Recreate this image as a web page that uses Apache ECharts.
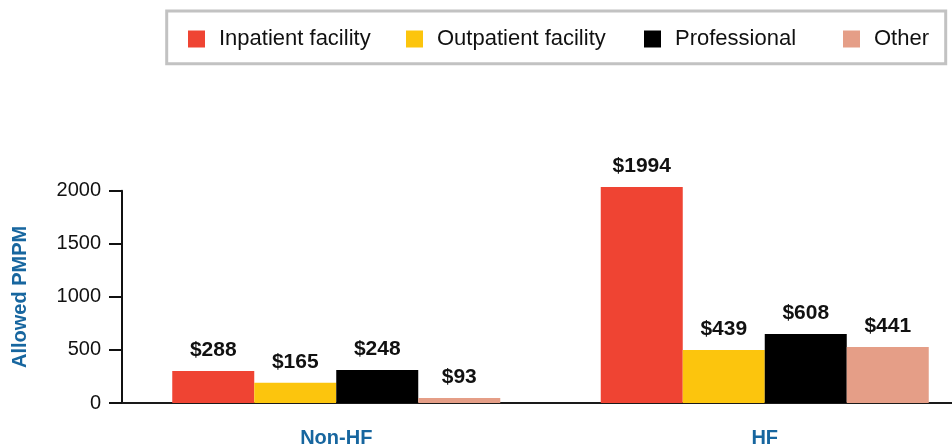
<!DOCTYPE html>
<html lang="en">
<head>
    <meta charset="UTF-8">
    <title>Allowed PMPM</title>
    <script src="https://cdn.jsdelivr.net/npm/echarts@6/dist/echarts.min.js"></script>
    <style>
        html, body { margin: 0; padding: 0; background: #fff; }
    </style>
</head>
<body>
<div id="main" style="width: 952px;height:448px;"></div>
<script>
    // categories and series (bar heights as drawn, labels as printed)
    var categories = ['Non-HF', 'HF'];
    var seriesNames = ['Inpatient facility', 'Outpatient facility', 'Professional', 'Other'];
    var inpatient = [301, 2035];
    var outpatient = [191, 499];
    var professional = [311, 650];
    var other = [47, 528];
    var inpatientLabels = ['$288', '$1994'];
    var outpatientLabels = ['$165', '$439'];
    var professionalLabels = ['$248', '$608'];
    var otherLabels = ['$93', '$441'];
    var yTicks = [0, 500, 1000, 1500, 2000];

    var colors = ['#ef4433', '#fcc50d', '#000000', '#e59e87'];
    var blue = '#17669f';
    var font = '"Liberation Sans", Arial, sans-serif';

    function makeSeries(name, values, labels, color) {
        return {
            name: name,
            type: 'bar',
            data: values,
            barWidth: 82,
            barGap: '0%',
            clip: false,
            itemStyle: {color: color},
            label: {
                show: true,
                position: 'top',
                distance: 10,
                fontFamily: font,
                fontSize: 21,
                fontWeight: 'bold',
                color: '#111',
                formatter: function (p) { return labels[p.dataIndex]; }
            }
        };
    }

    var legendLefts = [188, 406, 644, 843];
    var legends = seriesNames.map(function (n, i) {
        return {
            data: [n],
            left: legendLefts[i],
            top: 28,
            padding: 0,
            itemWidth: 17,
            itemHeight: 17,
            icon: 'rect',
            selectedMode: false,
            textStyle: {
                fontFamily: font,
                fontSize: 22,
                color: '#111',
                padding: [0, 0, 0, 9]
            }
        };
    });

    var option = {
        animation: false,
        color: colors,
        grid: {left: 122, top: 190.7, width: 857, bottom: 45, outerBoundsMode: 'none'},
        legend: legends,
        graphic: [{
            type: 'rect',
            shape: {x: 166.7, y: 11, width: 779, height: 52.7},
            style: {fill: 'none', stroke: '#c2c2c2', lineWidth: 3}
        }],
        xAxis: {
            type: 'category',
            data: categories,
            axisLine: {lineStyle: {color: '#1a1a1a', width: 2}},
            axisTick: {show: false},
            axisLabel: {
                margin: 25,
                fontFamily: font,
                fontSize: 20,
                fontWeight: 'bold',
                color: blue
            }
        },
        yAxis: {
            type: 'value',
            min: yTicks[0],
            max: yTicks[yTicks.length - 1],
            interval: yTicks[1] - yTicks[0],
            name: 'Allowed PMPM',
            nameLocation: 'middle',
            nameGap: 92,
            nameTextStyle: {
                fontFamily: font,
                fontSize: 20,
                fontWeight: 'bold',
                color: blue
            },
            axisLine: {show: true, lineStyle: {color: '#111', width: 2}},
            axisTick: {show: true, length: 13, lineStyle: {color: '#111', width: 2}},
            splitLine: {show: false},
            axisLabel: {
                margin: 21,
                fontFamily: font,
                fontSize: 20,
                color: '#111',
                formatter: function (v) { return String(v); }
            }
        },
        series: [
            makeSeries(seriesNames[0], inpatient, inpatientLabels, colors[0]),
            makeSeries(seriesNames[1], outpatient, outpatientLabels, colors[1]),
            makeSeries(seriesNames[2], professional, professionalLabels, colors[2]),
            makeSeries(seriesNames[3], other, otherLabels, colors[3])
        ]
    };

    var myChart = echarts.init(document.getElementById('main'));
    myChart.setOption(option);
</script>
</body>
</html>
